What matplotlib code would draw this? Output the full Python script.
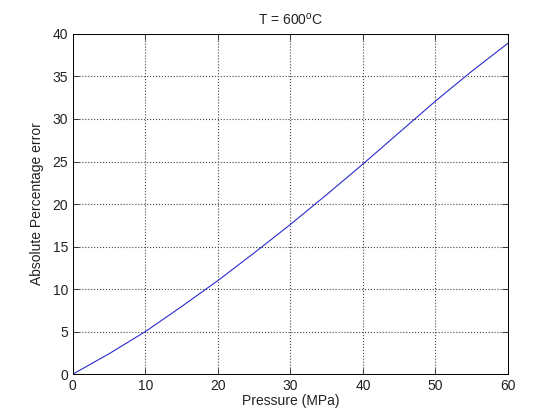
import numpy as np
import matplotlib.pyplot as plt

# valores
pressure = [0, 5, 10, 15, 20, 25, 30, 35, 40, 45, 50, 55, 60]
abs_error = [0, 2.4, 5.0, 7.95, 11.0, 14.25, 17.6, 21.1, 24.7, 28.4, 32.1, 35.6, 38.9]

plt.rcParams['font.family'] = ['Liberation Sans', 'DejaVu Sans']
plt.rcParams['font.size'] = 10
plt.rcParams['mathtext.fontset'] = 'custom'
plt.rcParams['mathtext.rm'] = 'Liberation Sans'

fig = plt.figure(figsize=(5.6, 4.19), dpi=100)
ax = fig.add_axes([0.13, 0.107, 0.777, 0.812])

ax.plot(pressure, abs_error, color='#2a2ad0', linewidth=0.8)

ax.set_xlim(0, 60)
ax.set_ylim(0, 40)
ax.set_xticks(np.arange(0, 61, 10))
ax.set_yticks(np.arange(0, 41, 5))
ax.tick_params(direction='in', top=True, right=True, length=4, width=0.6,
               labelsize=10, colors='#222222')
ax.grid(True, linestyle=':', color='#444444', linewidth=0.8)
for s in ax.spines.values():
    s.set_linewidth(0.7)
    s.set_color('black')

ax.set_title('T = 600$^{\\mathrm{o}}$C', fontsize=10, color='#222222', pad=7)
ax.set_xlabel('Pressure (MPa)', color='#222222', labelpad=1)
ax.set_ylabel('Absolute Percentage error', color='#222222', labelpad=6)

fig.savefig('out.png', dpi=100)
